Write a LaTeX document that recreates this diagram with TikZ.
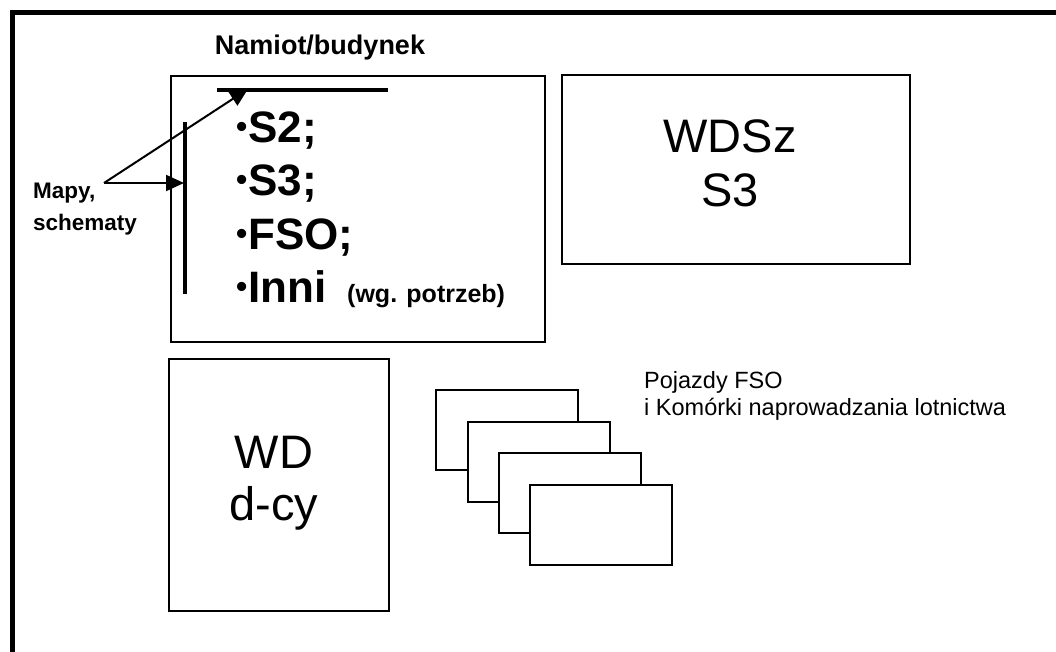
\documentclass[tikz,border=0pt]{standalone}
\usepackage{fontspec}
\setmainfont{Liberation Sans}
\usetikzlibrary{arrows.meta}
\newcommand{\smallbullet}{\raisebox{5pt}{\fontsize{32}{32}\selectfont •}\kern1pt}
\begin{document}
\begin{tikzpicture}[x=1pt,y=-1pt,
  box/.style={draw=black, line width=2pt, fill=white, inner sep=0pt, anchor=north west},
  card/.style={box, minimum width=142pt, minimum height=80pt},
  bar/.style={line width=4.5pt},
  pointer/.style={line width=2pt, -{Triangle[length=18pt,width=16pt]}},
  bigitem/.style={anchor=base west, inner sep=0pt, font=\bfseries\fontsize{44}{44}\selectfont},
  bigtxt/.style={anchor=base, inner sep=0pt, font=\fontsize{47}{47}\selectfont},
  smalllbl/.style={anchor=base west, inner sep=0pt, font=\bfseries\fontsize{22.5}{22.5}\selectfont},
  note/.style={anchor=base west, inner sep=0pt, font=\fontsize{23.5}{23.5}\selectfont}]
\useasboundingbox (0,0) rectangle (1056,652);
\fill[white] (0,0) rectangle (1056,652);
% outer frame (only top and left visible)
\coordinate (fA) at (12,652);
\coordinate (fB) at (12,12.5);
\coordinate (fC) at (1056,12.5);
\draw[line width=5pt, line join=miter] (fA) -- (fB) -- (fC);
% title
\node[anchor=base, inner sep=0pt, font=\bfseries\fontsize{27}{27}\selectfont] (title) at (320,55) {Namiot/budynek};
% tent box
\node[box, minimum width=374pt, minimum height=266pt] (tent) at (170,75) {};
% arrows from label
\coordinate (src) at (104,183);
\coordinate (tipA) at (248,89);
\coordinate (tipB) at (184,183);
\draw[pointer] (src) -- (tipA);
\draw[pointer] (src) -- (tipB);
% bars (maps)
\coordinate (hb1) at (217,90);
\coordinate (hb2) at (388,90);
\draw[bar] (hb1) -- (hb2);
\coordinate (vb1) at (185,122);
\coordinate (vb2) at (185,294);
\draw[bar] (vb1) -- (vb2);
% label
\node[smalllbl] (mapy) at (33,199) {Mapy,};
\node[smalllbl] (schem) at (33,230) {schematy};
% list
\node[bigitem] (s2) at (236,143) {\smallbullet S2;};
\node[bigitem] (s3) at (236,196) {\smallbullet S3;};
\node[bigitem] (fso) at (236,249) {\smallbullet FSO;};
\node[bigitem] (inni) at (236,302) {\smallbullet Inni};
\node[anchor=base west, inner sep=0pt, font=\bfseries\fontsize{25}{25}\selectfont] (wg) at (347,302) {(wg. potrzeb)};
% WDSz box
\node[box, minimum width=348pt, minimum height=189pt] (wdsz) at (561,74) {};
\node[bigtxt] (wdszA) at (730,153) {WDSz};
\node[bigtxt] (wdszB) at (730,207) {S3};
% WD box
\node[box, minimum width=220pt, minimum height=252pt] (wd) at (168,358) {};
\node[bigtxt] (wdA) at (274,468) {WD};
\node[bigtxt] (wdB) at (274,520) {d-cy};
% stacked cards
\node[card] (c1) at (435,389) {};
\node[card] (c2) at (467,421) {};
\node[card] (c3) at (498,452) {};
\node[card] (c4) at (529,484) {};
% note
\node[note] (noteA) at (644,388) {Pojazdy FSO};
\node[note] (noteB) at (644,415) {i Komórki naprowadzania lotnictwa};
\end{tikzpicture}
\end{document}
